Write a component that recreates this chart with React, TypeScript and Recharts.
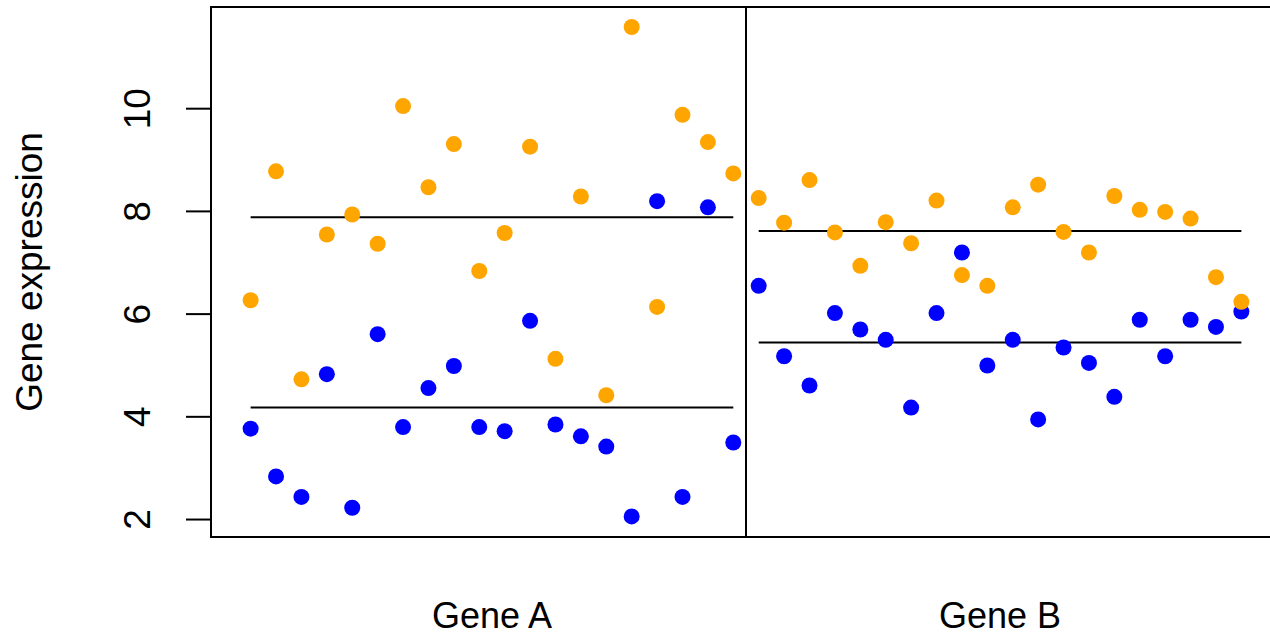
import React from 'react';
import { ScatterChart, Scatter, XAxis, YAxis, ReferenceLine, ReferenceArea } from 'recharts';

// two genes, 20 samples each, two groups per sample
const genes = ['Gene A', 'Gene B'];

const geneAOrange = [6.27, 8.78, 4.73, 7.55, 7.94, 7.37, 10.05, 8.47, 9.31, 6.84, 7.58, 9.26, 5.13, 8.29, 4.42, 11.59, 6.14, 9.88, 9.35, 8.74];
const geneABlue = [3.77, 2.84, 2.44, 4.83, 2.23, 5.61, 3.8, 4.56, 4.99, 3.8, 3.72, 5.87, 3.85, 3.62, 3.42, 2.06, 8.2, 2.44, 8.08, 3.5];
const geneBOrange = [8.26, 7.78, 8.61, 7.59, 6.94, 7.79, 7.38, 8.21, 6.76, 6.55, 8.08, 8.52, 7.6, 7.2, 8.3, 8.03, 7.99, 7.86, 6.72, 6.24];
const geneBBlue = [6.55, 5.18, 4.61, 6.02, 5.7, 5.5, 4.18, 6.02, 7.2, 5.0, 5.5, 3.95, 5.35, 5.05, 4.39, 5.89, 5.18, 5.89, 5.75, 6.05];

const yTicks = [2, 4, 6, 8, 10];

const samplesPerGene = 20;
const xDomain: [number, number] = [-0.56, 41.56];
const yDomain: [number, number] = [1.66, 11.98];

const ORANGE = '#FFA500';
const BLUE = '#0000FF';
const FONT = '"Liberation Sans", Arial, Helvetica, sans-serif';

const toPoints = (groups: number[][]) =>
  groups.flatMap((vals, g) => vals.map((y, i) => ({ x: g * samplesPerGene + i + 1, y })));

const mean = (v: number[]) => v.reduce((a, b) => a + b, 0) / v.length;

const orangePoints = toPoints([geneAOrange, geneBOrange]);
const bluePoints = toPoints([geneABlue, geneBBlue]);

const meanLines = [
  { gene: 0, value: mean(geneAOrange) },
  { gene: 0, value: mean(geneABlue) },
  { gene: 1, value: mean(geneBOrange) },
  { gene: 1, value: mean(geneBBlue) },
];

const geneCenters = genes.map((_, g) => g * samplesPerGene + (samplesPerGene + 1) / 2);

const dot = (color: string) => (props: any) => <circle cx={props.cx} cy={props.cy} r={8} fill={color} />;

const YTick = ({ x, y, payload }: any) => (
  <text
    x={x}
    y={y}
    transform={`rotate(-90, ${x}, ${y})`}
    textAnchor="middle"
    fontSize={37}
    fontFamily={FONT}
    fill="#000"
  >
    {payload.value}
  </text>
);

const XTick = ({ x, y, payload }: any) => (
  <text x={x} y={y} textAnchor="middle" fontSize={36} fontFamily={FONT} fill="#000">
    {genes[Math.floor(payload.value / samplesPerGene)]}
  </text>
);

const YLabel = ({ viewBox }: any) => {
  const cy = viewBox.y + viewBox.height / 2;
  return (
    <text x={42} y={cy} transform={`rotate(-90, 42, ${cy})`} textAnchor="middle" fontSize={37} fontFamily={FONT} fill="#000">
      Gene expression
    </text>
  );
};

export default function App() {
  return (
    <div style={{ position: 'absolute', left: 0, top: 0, width: 1270, height: 637, overflow: 'hidden', background: '#fff' }}>
      <ScatterChart width={1290} height={637} margin={{ top: 7, right: 9, bottom: 0, left: 0 }}>
        <XAxis
          type="number"
          dataKey="x"
          domain={xDomain}
          ticks={geneCenters}
          axisLine={false}
          tickLine={false}
          tickSize={0}
          tickMargin={91}
          height={100}
          tick={<XTick />}
          allowDataOverflow
        />
        <YAxis
          type="number"
          dataKey="y"
          domain={yDomain}
          ticks={yTicks}
          width={211}
          axisLine={false}
          tickLine={{ stroke: '#000', strokeWidth: 2 }}
          tickSize={25}
          tickMargin={36}
          tick={<YTick />}
          label={{ content: <YLabel /> }}
          allowDataOverflow
        />
        <ReferenceArea
          x1={xDomain[0]}
          x2={xDomain[1]}
          y1={yDomain[0]}
          y2={yDomain[1]}
          fill="none"
          fillOpacity={0}
          stroke="#000"
          strokeWidth={2}
        />
        <ReferenceLine x={samplesPerGene + 0.5} stroke="#000" strokeWidth={2} />
        {meanLines.map((m, i) => (
          <ReferenceLine
            key={i}
            segment={[
              { x: m.gene * samplesPerGene + 1, y: m.value },
              { x: (m.gene + 1) * samplesPerGene, y: m.value },
            ]}
            stroke="#000"
            strokeWidth={2}
          />
        ))}
        <Scatter data={bluePoints} fill={BLUE} shape={dot(BLUE)} isAnimationActive={false} />
        <Scatter data={orangePoints} fill={ORANGE} shape={dot(ORANGE)} isAnimationActive={false} />
      </ScatterChart>
    </div>
  );
}
